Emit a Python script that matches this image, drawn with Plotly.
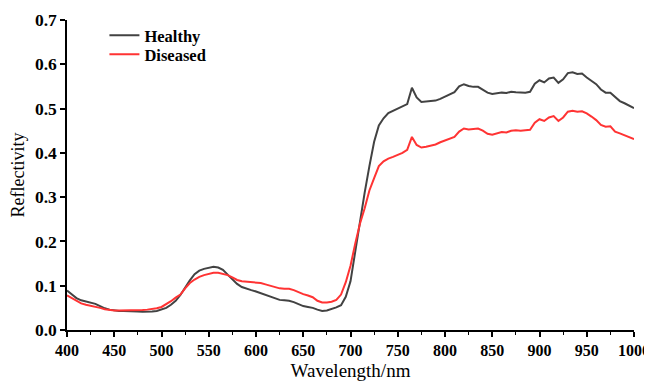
import plotly.graph_objects as go

wavelength = list(range(400, 1001, 5))

healthy = [
    0.089, 0.080, 0.072, 0.067, 0.064, 0.062, 0.059, 0.054, 0.049, 0.046,
    0.044, 0.043, 0.043, 0.043, 0.043, 0.042, 0.041, 0.041, 0.042, 0.043,
    0.046, 0.050, 0.057, 0.066, 0.079, 0.096, 0.112, 0.126, 0.134, 0.138,
    0.141, 0.143, 0.141, 0.136, 0.125, 0.114, 0.104, 0.097, 0.093, 0.090,
    0.087, 0.083, 0.079, 0.075, 0.071, 0.068, 0.067, 0.066, 0.063, 0.058,
    0.054, 0.052, 0.050, 0.046, 0.043, 0.044, 0.047, 0.051, 0.056, 0.075,
    0.110, 0.180, 0.245, 0.310, 0.370, 0.425, 0.462, 0.478, 0.490, 0.495,
    0.500, 0.505, 0.510, 0.547, 0.525, 0.515, 0.516, 0.517, 0.518, 0.522,
    0.527, 0.532, 0.537, 0.550, 0.555, 0.551, 0.549, 0.549, 0.543, 0.536,
    0.533, 0.534, 0.536, 0.535, 0.538, 0.537, 0.537, 0.536, 0.538, 0.556,
    0.564, 0.559, 0.568, 0.570, 0.558, 0.566, 0.580, 0.582, 0.578, 0.579,
    0.570, 0.563, 0.555, 0.543, 0.536, 0.536, 0.526, 0.517, 0.512, 0.507,
    0.501,
]

diseased = [
    0.078, 0.072, 0.066, 0.060, 0.057, 0.055, 0.053, 0.050, 0.047, 0.045,
    0.044, 0.044, 0.044, 0.044, 0.044, 0.045, 0.045, 0.046, 0.047, 0.049,
    0.052, 0.058, 0.065, 0.073, 0.080, 0.094, 0.106, 0.114, 0.120, 0.124,
    0.127, 0.129, 0.129, 0.127, 0.124, 0.119, 0.113, 0.110, 0.109, 0.108,
    0.108, 0.106, 0.103, 0.100, 0.097, 0.094, 0.093, 0.093, 0.090, 0.085,
    0.081, 0.078, 0.074, 0.066, 0.062, 0.062, 0.064, 0.068, 0.080, 0.108,
    0.145, 0.195, 0.240, 0.275, 0.315, 0.343, 0.370, 0.381, 0.387, 0.391,
    0.396, 0.400, 0.407, 0.436, 0.418, 0.412, 0.414, 0.416, 0.419, 0.424,
    0.428, 0.432, 0.436, 0.448, 0.455, 0.453, 0.454, 0.455, 0.450, 0.443,
    0.441, 0.444, 0.447, 0.446, 0.450, 0.451, 0.450, 0.451, 0.452, 0.468,
    0.476, 0.472, 0.480, 0.483, 0.472, 0.480, 0.493, 0.495, 0.493, 0.494,
    0.489, 0.482, 0.474, 0.463, 0.459, 0.460, 0.448, 0.444, 0.440, 0.436,
    0.431,
]

x_ticks = [400, 450, 500, 550, 600, 650, 700, 750, 800, 850, 900, 950, 1000]
y_ticks = [0.0, 0.1, 0.2, 0.3, 0.4, 0.5, 0.6, 0.7]
y_tick_labels = ["0.0", "0.1", "0.2", "0.3", "0.4", "0.5", "0.6", "0.7"]

serif = "Liberation Serif, Times New Roman, serif"
legend_font = dict(family=serif, size=16.5, color="black", weight="bold")

fig = go.Figure()
fig.add_trace(go.Scatter(x=wavelength, y=healthy, mode="lines", name="Healthy",
                         line=dict(color="#424242", width=2), legend="legend"))
fig.add_trace(go.Scatter(x=wavelength, y=diseased, mode="lines", name="Diseased",
                         line=dict(color="#ff3333", width=2), legend="legend2"))

fig.update_layout(
    width=644, height=373,
    margin=dict(l=58.5, r=18, t=12, b=51, autoexpand=False),
    paper_bgcolor="white", plot_bgcolor="white",
    font=dict(family=serif, color="black"),
    showlegend=True,
    legend=dict(x=0.066, y=1.006, xanchor="left", yanchor="top",
                bgcolor="rgba(0,0,0,0)", font=legend_font),
    legend2=dict(x=0.066, y=0.945, xanchor="left", yanchor="top",
                 bgcolor="rgba(0,0,0,0)", font=legend_font),
)

fig.update_xaxes(
    range=[400, 1000], tickvals=x_ticks, ticktext=[str(v) for v in x_ticks],
    automargin=False,
    showline=True, linecolor="black", linewidth=1.5, mirror=False,
    ticks="outside", ticklen=5, tickwidth=1.5, tickcolor="black",
    minor=dict(dtick=25, ticks="outside", ticklen=3, tickwidth=1, tickcolor="black", showgrid=False),
    showgrid=False, zeroline=False,
    tickfont=dict(family=serif, size=16, color="black", weight="bold"),
    title=dict(text="Wavelength/nm", font=dict(family=serif, size=19, color="black"), standoff=14),
)
fig.update_yaxes(
    range=[0, 0.7], tickvals=y_ticks, ticktext=y_tick_labels,
    automargin=False,
    showline=True, linecolor="black", linewidth=1.5, mirror=False,
    ticks="outside", ticklen=5, tickwidth=1.5, tickcolor="black",
    showgrid=False, zeroline=False,
    tickfont=dict(family=serif, size=17.5, color="black", weight="bold"),
    title=dict(text="Reflectivity", font=dict(family=serif, size=18, color="black"), standoff=6),
)

fig.write_html("out.html")
